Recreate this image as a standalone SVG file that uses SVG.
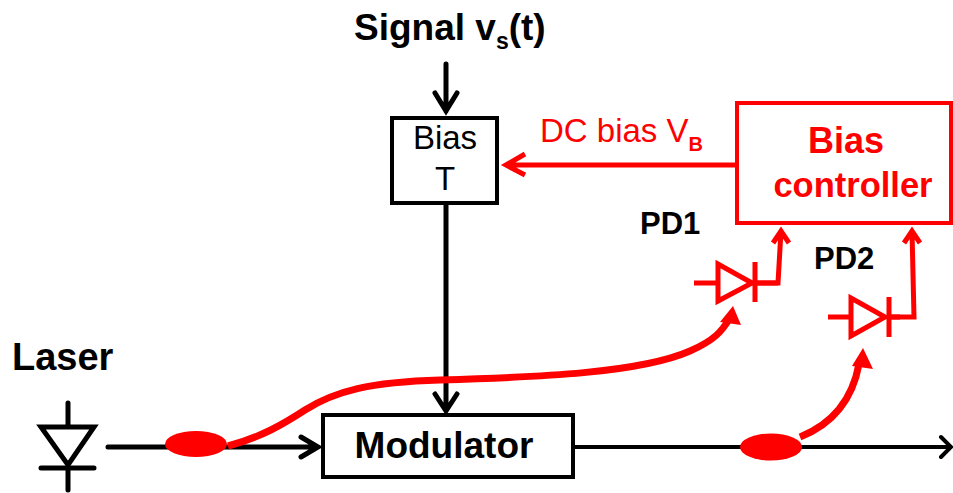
<svg xmlns="http://www.w3.org/2000/svg" width="953" height="493" viewBox="0 0 953 493">
<style>
text{font-family:"Liberation Sans",Arial,sans-serif;}
.t{font-weight:700;fill:#000;font-size:31px}
.big{font-weight:700;fill:#000;font-size:37px}
.l{fill:none;stroke:#000;stroke-width:5;stroke-linecap:round;stroke-linejoin:miter}
.r{fill:none;stroke:#f00;stroke-width:5;stroke-linejoin:miter}
.rt{fill:none;stroke:#f00;stroke-width:7;stroke-linecap:butt}
</style>
<rect width="953" height="493" fill="#fff"/>
<g id="connectors">
<path class="l" d="M446 64V111M435 93L446 111L457 93"/>
<path class="l" d="M446 199V410M435 394L446 411L457 394"/>
<path class="l" d="M108 447H317M301 437L318 447L301 457"/>
<path class="l" style="stroke-width:4" d="M574 447H951M941 437L951 447L941 457"/>
<path class="r" d="M737 165H507M525 154L506 165L525 175"/>
<path class="r" d="M755 283H778L781 231M773 243L781 231L789 243"/>
<path class="r" d="M889 317H914L912 231M904 243L912 231L920 243"/>
<path class="rt" d="M228 446C262 437 285 423 305 410C335 391 370 382 440 380C540 377 640 373 690 351C715 340 722 331 730 318"/>
<path fill="#f00" d="M733 306L741 325L720 322Z"/>
<path class="rt" d="M800 437C830 425 852 402 859 364"/>
<path fill="#f00" d="M863 348L873 369L852 366Z"/>
</g>
<g id="signal-label"><text class="big" x="354" y="40">Signal v<tspan font-size="23" dy="9">s</tspan><tspan dy="-9">(t)</tspan></text></g>
<g id="bias-t">
<rect x="392" y="118" width="105" height="85" fill="#fff" stroke="#000" stroke-width="4"/>
<text x="445" y="149" text-anchor="middle" font-size="33" fill="#000">Bias</text>
<text x="445" y="190" text-anchor="middle" font-size="33" fill="#000">T</text>
</g>
<g id="dc-label"><text x="540" y="142" font-size="33" fill="#f00">DC bias V<tspan font-size="20" dy="9" font-weight="700">B</tspan></text></g>
<g id="bias-controller">
<rect x="737" y="103" width="214" height="120" fill="#fff" stroke="#f00" stroke-width="4"/>
<text x="846" y="153" text-anchor="middle" font-size="36" font-weight="700" fill="#f00">Bias</text>
<text x="853" y="197" text-anchor="middle" font-size="34.5" font-weight="700" fill="#f00">controller</text>
</g>
<g id="pd1">
<text class="t" x="640" y="234">PD1</text>
<path class="r" d="M694 283H716M718 264V301L752 283ZM755 262V302M755 283H778"/>
</g>
<g id="pd2">
<text class="t" x="814" y="269">PD2</text>
<path class="r" d="M828 317H851M851 298V336L885 317ZM889 297V337M889 317H900"/>
</g>
<g id="laser">
<text class="big" x="12" y="370" style="font-size:38px">Laser</text>
<path class="l" d="M68 403V426M68 470V490M41 468H94"/>
<path fill="none" stroke="#000" stroke-width="5" d="M41 427H94L68 465Z"/>
</g>
<g id="coupler1"><ellipse cx="196" cy="444" rx="31" ry="13" fill="#f00"/></g>
<g id="modulator">
<rect x="323" y="415" width="250" height="62" fill="#fff" stroke="#000" stroke-width="4"/>
<text x="444" y="458" text-anchor="middle" font-size="37" font-weight="700" fill="#000">Modulator</text>
</g>
<g id="coupler2"><ellipse cx="771" cy="447" rx="31" ry="13.5" fill="#f00"/></g>
</svg>
